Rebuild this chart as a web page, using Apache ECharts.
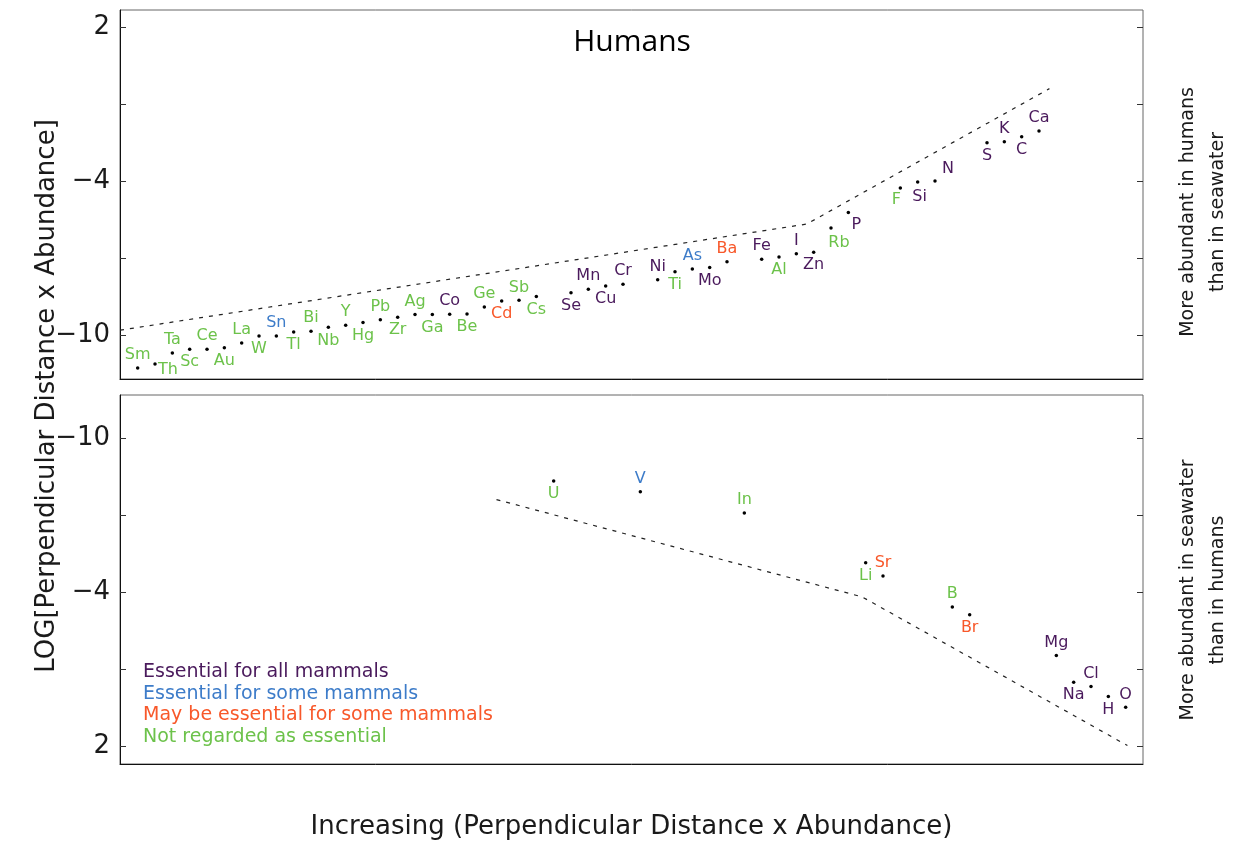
<!DOCTYPE html>
<html>
<head>
<meta charset="utf-8">
<script src="https://cdn.jsdelivr.net/npm/echarts@6/dist/echarts.min.js"></script>
<style>
  html, body { margin: 0; padding: 0; background: #fff; }
  #chart { width: 1235px; height: 846px; }
</style>
</head>
<body>
<div id="chart"></div>
<script>
// group: 0 essential for all mammals, 1 for some, 2 may be essential, 3 not essential
const groupNames = ['Essential for all mammals', 'Essential for some mammals',
  'May be essential for some mammals', 'Not regarded as essential'];
const groupColors = ['#4a1a5c', '#3d7cc9', '#f8582a', '#6cc24a'];

// upper panel: more abundant in humans than in seawater
const topNames = ['Sm', 'Th', 'Ta', 'Sc', 'Ce', 'Au', 'La', 'W', 'Sn', 'Tl',
  'Bi', 'Nb', 'Y', 'Hg', 'Pb', 'Zr', 'Ag', 'Ga', 'Co', 'Be',
  'Ge', 'Cd', 'Sb', 'Cs', 'Se', 'Mn', 'Cu', 'Cr', 'Ni', 'Ti',
  'As', 'Mo', 'Ba', 'Fe', 'Al', 'I', 'Zn', 'Rb', 'P', 'F',
  'Si', 'N', 'S', 'K', 'C', 'Ca'];
const topRank = [0, 1, 2, 3, 4, 5, 6, 7, 8, 9,
  10, 11, 12, 13, 14, 15, 16, 17, 18, 19,
  20, 21, 22, 23, 25, 26, 27, 28, 30, 31,
  32, 33, 34, 36, 37, 38, 39, 40, 41, 44,
  45, 46, 49, 50, 51, 52];
const topLog = [-11.27, -11.12, -10.69, -10.54, -10.54, -10.48, -10.30, -10.03, -10.03, -9.87,
  -9.84, -9.69, -9.61, -9.50, -9.39, -9.30, -9.19, -9.19, -9.18, -9.17,
  -8.90, -8.66, -8.64, -8.49, -8.34, -8.21, -8.08, -8.01, -7.84, -7.53,
  -7.42, -7.36, -7.14, -7.04, -6.95, -6.83, -6.77, -5.82, -5.22, -4.27,
  -4.03, -3.99, -2.51, -2.47, -2.27, -2.05];
const topGroup = [3, 3, 3, 3, 3, 3, 3, 3, 1, 3,
  3, 3, 3, 3, 3, 3, 3, 3, 0, 3,
  3, 2, 3, 3, 0, 0, 0, 0, 0, 3,
  1, 0, 2, 0, 3, 0, 0, 3, 0, 3,
  0, 0, 0, 0, 0, 0];

// lower panel: more abundant in seawater than in humans
const botNames = ['U', 'V', 'In', 'Li', 'Sr', 'B', 'Br', 'Mg', 'Na', 'Cl', 'H', 'O'];
const botRank = [24, 29, 35, 42, 43, 47, 48, 53, 54, 55, 56, 57];
const botLog = [-8.34, -7.92, -7.10, -5.15, -4.64, -3.43, -3.12, -1.53, -0.49, -0.32, 0.07, 0.49];
const botGroup = [3, 1, 3, 3, 2, 3, 2, 0, 0, 0, 0, 0];

// dashed guide lines
const topGuideRank = [-1.02, 38.6, 52.6];
const topGuideLog = [-9.8, -5.67, -0.4];
const botGuideRank = [20.7, 41.8, 57.1];
const botGuideLog = [-7.62, -3.82, 1.98];

const tickValues = [2, -1, -4, -7, -10];
const labelValues = [2, -4, -10];

// label placement next to each dot (screen px)
const A = [0, -13], B = [0, 13];
const topLabelOffset = [A, [13, 6], A, B, A, B, A, B, A, B,
  A, B, A, B, A, B, A, B, A, B,
  A, B, A, B, B, A, B, A, A, B,
  A, B, A, A, B, A, B, [8, 15], [8, 12], [-4, 12],
  [2, 15], [13, -12], B, A, B, A];
const botLabelOffset = [B, A, A, B, A, A, B, A, B, A, B, A];

const font = 'DejaVu Sans';

function points(names, rank, log, group) {
  return names.map((n, i) => ({
    name: n,
    value: [rank[i], log[i]],
    label: { color: groupColors[group[i]] }
  }));
}

function pairs(xs, ys) {
  return xs.map((x, i) => [x, ys[i]]);
}

const chart = echarts.init(document.getElementById('chart'), null, { renderer: 'canvas' });

const xAxisBase = {
  type: 'value', min: -1.02, max: 58.0,
  axisLine: { show: true, onZero: false, lineStyle: { color: '#111' } },
  axisTick: { show: false }, axisLabel: { show: false }, splitLine: { show: false }
};

function yAxisFor(gridIndex, inverse, position, withLabels) {
  return {
    type: 'value', gridIndex: gridIndex, inverse: inverse, position: position,
    min: -11.7, max: inverse ? 2.7 : 2.66,
    axisLine: { show: position === 'left', onZero: false, lineStyle: { color: '#111' } },
    axisTick: { show: true, inside: true, length: 6, customValues: tickValues, lineStyle: { color: '#333' } },
    axisLabel: {
      show: withLabels, customValues: labelValues, margin: 10,
      fontSize: 26, fontFamily: font, color: '#1a1a1a',
      formatter: v => String(v).replace('-', '\u2212')
    },
    splitLine: { show: false }
  };
}

function dotSeries(name, xi, data, offsets) {
  return {
    name: name, type: 'scatter', xAxisIndex: xi, yAxisIndex: xi * 2,
    symbol: 'circle', symbolSize: 3.5,
    itemStyle: { color: '#000', opacity: 1 },
    label: {
      show: true, position: 'inside', formatter: '{b}', opacity: 1,
      fontSize: 16, fontFamily: font, align: 'center', verticalAlign: 'middle',
      textBorderWidth: 0
    },
    labelLayout: p => ({ dx: offsets[p.dataIndex][0], dy: offsets[p.dataIndex][1], hideOverlap: false }),
    data: data, z: 3
  };
}

function guideSeries(xi, data) {
  return {
    type: 'line', xAxisIndex: xi, yAxisIndex: xi * 2,
    symbol: 'none', silent: true,
    lineStyle: { color: '#222', width: 1.2, type: [4, 6] },
    data: data, z: 2
  };
}

const legendLines = groupNames.map((t, i) => ({
  type: 'text', x: 143, y: 672 + i * 21.7,
  style: { text: t, fill: groupColors[i], font: '19px "' + font + '"', verticalAlign: 'middle' }
}));

const sideText = (text, x, y) => ({
  type: 'text', x: x, y: y, rotation: Math.PI / 2,
  style: { text: text, fill: '#1a1a1a', font: '19px "' + font + '"', align: 'center', verticalAlign: 'middle' }
});

chart.setOption({
  animation: false,
  backgroundColor: '#fff',
  grid: [
    { left: 120, top: 10, width: 1023, height: 369, show: true, borderColor: '#666', borderWidth: 1 },
    { left: 120, top: 395, width: 1023, height: 369, show: true, borderColor: '#666', borderWidth: 1 }
  ],
  xAxis: [
    Object.assign({ gridIndex: 0 }, xAxisBase),
    Object.assign({ gridIndex: 1 }, xAxisBase, {
      name: 'Increasing (Perpendicular Distance x Abundance)',
      nameLocation: 'middle', nameGap: 50,
      nameTextStyle: { fontSize: 26, fontFamily: font, color: '#1a1a1a' }
    })
  ],
  yAxis: [
    yAxisFor(0, false, 'left', true),
    yAxisFor(0, false, 'right', false),
    yAxisFor(1, true, 'left', true),
    yAxisFor(1, true, 'right', false)
  ],
  series: [
    guideSeries(0, pairs(topGuideRank, topGuideLog)),
    dotSeries('Humans', 0, points(topNames, topRank, topLog, topGroup), topLabelOffset),
    guideSeries(1, pairs(botGuideRank, botGuideLog)),
    dotSeries('Seawater', 1, points(botNames, botRank, botLog, botGroup), botLabelOffset)
  ],
  graphic: [
    {
      type: 'text', x: 632, y: 42,
      style: { text: 'Humans', fill: '#000', font: '30px "Open Sans"', align: 'center', verticalAlign: 'middle' }
    },
    {
      type: 'text', x: 47, y: 396, rotation: Math.PI / 2,
      style: { text: 'LOG[Perpendicular Distance x Abundance]', fill: '#1a1a1a', font: '26px "' + font + '"', align: 'center', verticalAlign: 'middle' }
    },
    sideText('More abundant in humans', 1188, 212),
    sideText('than in seawater', 1218, 212),
    sideText('More abundant in seawater', 1188, 590),
    sideText('than in humans', 1218, 590)
  ].concat(legendLines)
});
</script>
</body>
</html>
